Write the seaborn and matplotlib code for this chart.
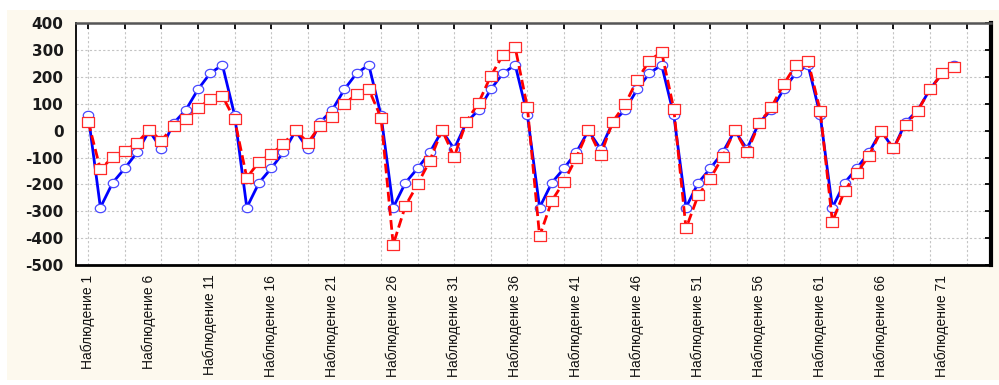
import numpy as np
import pandas as pd
import matplotlib
matplotlib.use("Agg")
import matplotlib.pyplot as plt
import seaborn as sns
from matplotlib.path import Path
from matplotlib.patches import Rectangle
from matplotlib.ticker import NullFormatter

# ---------------- data ----------------
observations = list(range(1, 73))
series_blue = [58, -286, -194, -140, -81, 0, -68, 28, 77, 154, 214, 245,
               58, -286, -194, -140, -81, 0, -68, 31, 77, 154, 214, 245,
               58, -286, -194, -140, -81, 0, -68, 31, 77, 154, 214, 245,
               58, -286, -194, -140, -81, 0, -68, 31, 77, 154, 214, 245,
               58, -286, -194, -140, -81, 0, -68, 31, 77, 154, 214, 245,
               58, -286, -194, -140, -81, 0, -68, 31, 77, 154, 214, 245]
series_red = [34, -144, -99, -75, -45, 3, -37, 18, 42, 84, 117, 129,
              42, -175, -116, -87, -50, 3, -45, 18, 52, 100, 136, 154,
              49, -424, -280, -199, -112, 3, -97, 34, 104, 204, 282, 310,
              87, -393, -261, -190, -101, 3, -91, 34, 98, 189, 261, 293,
              81, -364, -240, -178, -97, 3, -81, 28, 87, 173, 244, 260,
              75, -339, -224, -157, -93, 0, -66, 21, 75, 154, 214, 239]
label_positions = [1, 6, 11, 16, 21, 26, 31, 36, 41, 46, 51, 56, 61, 66, 71]
label_texts = ["Наблюдение %d" % p for p in label_positions]
y_ticks = [-500, -400, -300, -200, -100, 0, 100, 200, 300, 400]
x_major_ticks = list(range(1, 74, 3))

df_blue = pd.DataFrame({"obs": observations, "value": series_blue})
df_red = pd.DataFrame({"obs": observations, "value": series_red})

# ---------------- style ----------------
sns.set_theme(style="white")
plt.rcParams["font.family"] = ["Liberation Sans", "DejaVu Sans"]

fig = plt.figure(figsize=(9.99, 3.85), dpi=100, facecolor="white")
fig.patches.append(Rectangle((7 / 999, 5 / 385), 992 / 999, 370 / 385,
                             transform=fig.transFigure, facecolor="#FDF9EE",
                             edgecolor="none", zorder=-5))
ax = fig.add_axes([76 / 999, 1 - 265 / 385, (991 - 76) / 999, (265 - 23.3) / 385])
ax.set_facecolor("white")

# markers: slightly wide ellipse and rectangle
t = np.linspace(0, 2 * np.pi, 41)
ellipse = Path(np.column_stack([1.25 * np.cos(t), np.sin(t)]), closed=True)
rect = Path([(-1.2, -1), (1.2, -1), (1.2, 1), (-1.2, 1), (-1.2, -1)], closed=True)

sns.lineplot(data=df_blue, x="obs", y="value", ax=ax, color="#0000FF", lw=2,
             marker=ellipse, markersize=7.5, markerfacecolor="white",
             markeredgecolor="#4A4AFF", markeredgewidth=0.9, zorder=3)
sns.lineplot(data=df_red, x="obs", y="value", ax=ax, color="#FF0000", lw=2,
             linestyle=(0, (3.5, 1.6)), marker=rect, markersize=8,
             markerfacecolor="white", markeredgecolor="#FF2A2A",
             markeredgewidth=0.9, zorder=4)

ax.set_xlim(0, 75)
ax.set_ylim(-500, 400)
ax.set_xlabel("")
ax.set_ylabel("")

ax.set_yticks(y_ticks, labels=[str(v) for v in y_ticks], fontsize=11,
              fontweight="bold", family="DejaVu Sans", color="#1a1a1a")
ax.xaxis.remove_overlapping_locs = False
ax.set_xticks(x_major_ticks)
ax.xaxis.set_major_formatter(NullFormatter())
ax.set_xticks(label_positions, labels=label_texts, minor=True,
              fontsize=10, family="Liberation Sans", color="#111111")

ax.tick_params(axis="both", which="major", direction="in", top=True, right=True,
               length=4, width=1.3, color="black")
ax.tick_params(axis="y", which="major", pad=9)
ax.tick_params(axis="x", which="minor", length=0, pad=7, rotation=90)

ax.grid(True, which="major", linestyle=(0, (2, 2)), color="#C4C4C4", lw=0.8)
ax.grid(False, which="minor")

ax.spines["left"].set_linewidth(1.3)
ax.spines["left"].set_color("black")
ax.spines["bottom"].set_linewidth(2)
ax.spines["bottom"].set_color("black")
ax.spines["top"].set_linewidth(1.8)
ax.spines["top"].set_color("#555555")
ax.spines["right"].set_linewidth(3)
ax.spines["right"].set_color("black")
for s in ax.spines.values():
    s.set_visible(True)

if ax.get_legend() is not None:
    ax.get_legend().remove()

fig.savefig("out.png", dpi=100, facecolor="white")
